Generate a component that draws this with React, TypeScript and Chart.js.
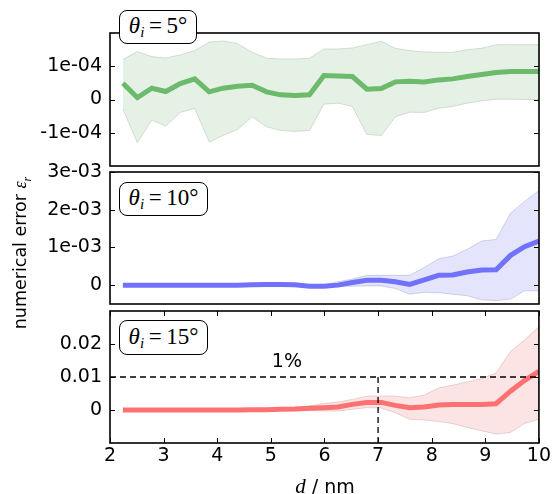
import React, { useEffect, useRef } from "react";
import { Chart, registerables } from "chart.js";

Chart.register(...registerables);

// ---------- data ----------
const dValues = [
  2.24, 2.51, 2.78, 3.04, 3.31, 3.58, 3.85, 4.11, 4.38, 4.65,
  4.92, 5.18, 5.45, 5.72, 5.99, 6.25, 6.52, 6.79, 7.06, 7.32,
  7.59, 7.86, 8.13, 8.39, 8.66, 8.93, 9.2, 9.47, 9.73, 10.0,
];

const mean5 = [
  0.49e-4, 0.06e-4, 0.34e-4, 0.24e-4, 0.48e-4, 0.62e-4, 0.23e-4, 0.34e-4, 0.4e-4, 0.43e-4,
  0.23e-4, 0.14e-4, 0.12e-4, 0.14e-4, 0.72e-4, 0.71e-4, 0.69e-4, 0.31e-4, 0.33e-4, 0.53e-4,
  0.55e-4, 0.53e-4, 0.59e-4, 0.62e-4, 0.69e-4, 0.75e-4, 0.81e-4, 0.84e-4, 0.84e-4, 0.84e-4,
];
const upper5 = [
  1.2e-4, 1.44e-4, 1.29e-4, 1.25e-4, 1.34e-4, 1.47e-4, 1.73e-4, 1.76e-4, 1.68e-4, 1.42e-4,
  1.24e-4, 1.22e-4, 1.22e-4, 1.24e-4, 1.52e-4, 1.52e-4, 1.55e-4, 1.65e-4, 1.75e-4, 1.54e-4,
  1.47e-4, 1.43e-4, 1.42e-4, 1.42e-4, 1.5e-4, 1.54e-4, 1.65e-4, 1.65e-4, 1.65e-4, 1.65e-4,
];
const lower5 = [
  -0.29e-4, -1.3e-4, -0.62e-4, -0.8e-4, -0.39e-4, -0.27e-4, -1.28e-4, -1.08e-4, -0.9e-4, -0.52e-4,
  -0.82e-4, -0.93e-4, -0.96e-4, -0.93e-4, -0.14e-4, -0.11e-4, -0.21e-4, -1.05e-4, -1.08e-4, -0.52e-4,
  -0.38e-4, -0.39e-4, -0.26e-4, -0.21e-4, -0.11e-4, -0.04e-4, 0.01e-4, 0.01e-4, 0.0, 0.0,
];

const mean10 = [
  0, 0, 0, 0, 0, 0, 0, 0, 0, 0.01e-3,
  0.02e-3, 0.02e-3, 0.01e-3, -0.03e-3, -0.03e-3, 0.0, 0.07e-3, 0.13e-3, 0.13e-3, 0.09e-3,
  0.02e-3, 0.14e-3, 0.26e-3, 0.27e-3, 0.35e-3, 0.4e-3, 0.41e-3, 0.79e-3, 1.02e-3, 1.17e-3,
];
const upper10 = [
  0.005e-3, 0.005e-3, 0.005e-3, 0.005e-3, 0.005e-3, 0.005e-3, 0.005e-3, 0.01e-3, 0.01e-3, 0.02e-3,
  0.03e-3, 0.04e-3, 0.03e-3, 0.01e-3, 0.01e-3, 0.09e-3, 0.16e-3, 0.26e-3, 0.26e-3, 0.26e-3,
  0.26e-3, 0.47e-3, 0.7e-3, 0.77e-3, 0.95e-3, 1.17e-3, 1.21e-3, 1.91e-3, 2.22e-3, 2.51e-3,
];
const lower10 = [
  -0.005e-3, -0.005e-3, -0.005e-3, -0.005e-3, -0.005e-3, -0.005e-3, -0.005e-3, -0.01e-3, -0.01e-3, -0.01e-3,
  -0.02e-3, -0.03e-3, -0.04e-3, -0.06e-3, -0.06e-3, -0.03e-3, -0.03e-3, -0.02e-3, -0.02e-3, -0.09e-3,
  -0.24e-3, -0.19e-3, -0.2e-3, -0.24e-3, -0.28e-3, -0.39e-3, -0.41e-3, -0.37e-3, -0.15e-3, -0.15e-3,
];

const mean15 = [
  0, 0, 0, 0, 0, 0, 0, 0, 0, 0.0001,
  0.0001, 0.0002, 0.0003, 0.0005, 0.0007, 0.0009, 0.0017, 0.0023, 0.0023, 0.0014,
  0.0007, 0.0009, 0.0015, 0.0017, 0.0017, 0.0017, 0.0019, 0.0057, 0.0089, 0.0117,
];
const upper15 = [
  0.00005, 0.00005, 0.00005, 0.00005, 0.00005, 0.00005, 0.00005, 0.0001, 0.0002, 0.0003,
  0.0004, 0.0006, 0.0008, 0.0012, 0.002, 0.0024, 0.0032, 0.0042, 0.0042, 0.0042,
  0.0037, 0.0045, 0.0067, 0.0075, 0.0085, 0.0095, 0.0112, 0.0177, 0.0212, 0.0252,
];
const lower15 = [
  -0.00005, -0.00005, -0.00005, -0.00005, -0.00005, -0.00005, -0.00005, -0.0001, -0.0001, -0.0001,
  -0.0002, -0.0002, -0.0002, -0.0002, -0.0003, -0.0003, 0.0002, 0.0007, 0.0006, -0.0008,
  -0.0028, -0.003, -0.0035, -0.0041, -0.0053, -0.0063, -0.0073, -0.0068, -0.0041, -0.0028,
];

const xRange = [2, 10];
const xTickValues = [2, 3, 4, 5, 6, 7, 8, 9, 10];
const xTickLabels = ["2", "3", "4", "5", "6", "7", "8", "9", "10"];

const yRange5 = [-2e-4, 2e-4];
const yTicks5 = [-1e-4, 0, 1e-4];
const yTickLabels5 = ["-1e-04", "0", "1e-04"];

const yRange10 = [-0.0005, 0.003];
const yTicks10 = [0, 1e-3, 2e-3, 3e-3];
const yTickLabels10 = ["0", "1e-03", "2e-03", "3e-03"];

const yRange15 = [-0.01, 0.03];
const yTicks15 = [0, 0.01, 0.02];
const yTickLabels15 = ["0", "0.01", "0.02"];

const thresholdValue = 0.01;
const thresholdD = 7;
const thresholdLabel = "1%";
const thresholdLabelPos = [5.3, 0.0115];

const panelAngles = ["5°", "10°", "15°"];

// ---------- layout ----------
const W = 553;
const H = 494;
const LEFT = 110;
const RIGHT = 539;
const FONT = "'DejaVu Sans', sans-serif";
const TICK_SIZE = 19;

const framePlugin = {
  id: "frame",
  afterDatasetsDraw(chart: any, _args: any, opts: any) {
    const { ctx, chartArea: a } = chart;
    ctx.save();
    ctx.strokeStyle = "#000";
    ctx.lineWidth = 1;
    const ys = chart.scales.y;
    ys.ticks.forEach((t: any) => {
      const p = Math.round(ys.getPixelForValue(t.value)) + 0.5;
      ctx.beginPath();
      ctx.moveTo(a.left, p);
      ctx.lineTo(a.left + 5, p);
      ctx.moveTo(a.right, p);
      ctx.lineTo(a.right - 5, p);
      ctx.stroke();
    });
    if (opts && opts.xTicks) {
      const xs = chart.scales.x;
      xs.ticks.forEach((t: any) => {
        const p = Math.round(xs.getPixelForValue(t.value)) + 0.5;
        ctx.beginPath();
        ctx.moveTo(p, a.top);
        ctx.lineTo(p, a.top + 5);
        ctx.moveTo(p, a.bottom);
        ctx.lineTo(p, a.bottom - 5);
        ctx.stroke();
      });
    }
    if (opts && opts.label) {
      const xs = chart.scales.x;
      ctx.fillStyle = "#000";
      ctx.font = `${TICK_SIZE}px ${FONT}`;
      ctx.textAlign = "center";
      ctx.textBaseline = "bottom";
      ctx.fillText(
        opts.label.text,
        xs.getPixelForValue(opts.label.x),
        ys.getPixelForValue(opts.label.y)
      );
    }
    ctx.lineWidth = 1.6;
    ctx.strokeRect(a.left, a.top, a.right - a.left, a.bottom - a.top);
    ctx.restore();
  },
};

type PanelSpec = {
  mean: number[];
  upper: number[];
  lower: number[];
  line: string;
  band: string;
  edge: string;
  yRange: number[];
  yTicks: number[];
  yLabels: string[];
  top: number;
  bottom: number;
  showX: boolean;
  threshold: boolean;
};

function pts(ys: number[]) {
  return dValues.map((x, i) => ({ x, y: ys[i] }));
}

function makeConfig(p: PanelSpec): any {
  const datasets: any[] = [];
  if (p.threshold) {
    datasets.push({
      data: [
        { x: xRange[0], y: thresholdValue },
        { x: xRange[1], y: thresholdValue },
      ],
      borderColor: "#000",
      borderWidth: 1.3,
      borderDash: [6, 4],
      pointRadius: 0,
      fill: false,
    });
    datasets.push({
      data: [
        { x: thresholdD, y: p.yRange[0] },
        { x: thresholdD, y: thresholdValue },
      ],
      borderColor: "#000",
      borderWidth: 1.3,
      borderDash: [6, 4],
      pointRadius: 0,
      fill: false,
    });
  }
  const lineIdx = datasets.length;
  datasets.push({
    data: pts(p.mean),
    borderColor: p.line,
    borderWidth: 5,
    pointRadius: 0,
    tension: 0,
    fill: false,
    borderJoinStyle: "miter",
  });
  const upperIdx = lineIdx + 1;
  datasets.push({
    data: pts(p.upper),
    borderColor: p.edge,
    borderWidth: 1,
    pointRadius: 0,
    tension: 0,
    fill: false,
  });
  datasets.push({
    data: pts(p.lower),
    borderColor: p.edge,
    borderWidth: 1,
    pointRadius: 0,
    tension: 0,
    fill: { target: upperIdx },
    backgroundColor: p.band,
  });

  const frameOpts: any = { xTicks: p.showX };
  if (p.threshold) {
    frameOpts.label = {
      text: thresholdLabel,
      x: thresholdLabelPos[0],
      y: thresholdLabelPos[1],
    };
  }

  return {
    type: "line",
    data: { datasets },
    plugins: [framePlugin],
    options: {
      animation: false,
      responsive: false,
      maintainAspectRatio: false,
      events: [],
      layout: {
        padding: {
          left: 0,
          right: W - RIGHT,
          top: p.top,
          bottom: p.showX ? 0 : H - p.bottom,
        },
      },
      plugins: {
        legend: { display: false },
        tooltip: { enabled: false },
        title: { display: false },
        frame: frameOpts,
      },
      scales: {
        x: {
          type: "linear",
          min: xRange[0],
          max: xRange[1],
          display: p.showX,
          grid: { display: false, drawTicks: false },
          border: { display: false },
          afterBuildTicks: (s: any) => {
            s.ticks = xTickValues.map((v) => ({ value: v }));
          },
          afterFit: (s: any) => {
            if (p.showX) s.height = H - p.bottom;
          },
          ticks: {
            color: "#000",
            font: { family: FONT, size: TICK_SIZE },
            padding: 2,
            maxRotation: 0,
            autoSkip: false,
            callback: (v: any) => {
              const i = xTickValues.indexOf(v);
              return i >= 0 ? xTickLabels[i] : "";
            },
          },
        },
        y: {
          type: "linear",
          min: p.yRange[0],
          max: p.yRange[1],
          grid: { display: false, drawTicks: false },
          border: { display: false },
          afterBuildTicks: (s: any) => {
            s.ticks = p.yTicks.map((v) => ({ value: v }));
          },
          afterFit: (s: any) => {
            s.width = LEFT;
          },
          ticks: {
            color: "#000",
            font: { family: FONT, size: TICK_SIZE },
            padding: 8,
            autoSkip: false,
            callback: (v: any) => {
              const i = p.yTicks.indexOf(v);
              return i >= 0 ? p.yLabels[i] : "";
            },
          },
        },
      },
    },
  };
}

const panels: PanelSpec[] = [
  {
    mean: mean5, upper: upper5, lower: lower5,
    line: "#6cba6c", band: "rgba(110,180,110,0.18)", edge: "rgba(150,170,150,0.35)",
    yRange: yRange5, yTicks: yTicks5, yLabels: yTickLabels5,
    top: 33, bottom: 166, showX: false, threshold: false,
  },
  {
    mean: mean10, upper: upper10, lower: lower10,
    line: "#7171fa", band: "rgba(120,120,240,0.2)", edge: "rgba(140,140,190,0.35)",
    yRange: yRange10, yTicks: yTicks10, yLabels: yTickLabels10,
    top: 172, bottom: 304, showX: false, threshold: false,
  },
  {
    mean: mean15, upper: upper15, lower: lower15,
    line: "#fc7272", band: "rgba(245,120,120,0.2)", edge: "rgba(190,140,140,0.35)",
    yRange: yRange15, yTicks: yTicks15, yLabels: yTickLabels15,
    top: 311, bottom: 443, showX: true, threshold: true,
  },
];

const boxes = [
  { left: 119, top: 10, width: 79, height: 35 },
  { left: 119, top: 182, width: 90, height: 35 },
  { left: 119, top: 320, width: 90, height: 36 },
];

function Panel({ spec }: { spec: PanelSpec }) {
  const ref = useRef<HTMLCanvasElement | null>(null);
  useEffect(() => {
    if (!ref.current) return;
    const chart = new Chart(ref.current, makeConfig(spec));
    return () => chart.destroy();
  }, [spec]);
  return (
    <canvas
      ref={ref}
      width={W}
      height={H}
      style={{ position: "absolute", left: 0, top: 0, width: W, height: H }}
    />
  );
}

export default function App() {
  return (
    <div
      style={{
        position: "absolute",
        left: 0,
        top: 0,
        width: W,
        height: H,
        background: "#fff",
        overflow: "hidden",
      }}
    >
      {panels.map((p, i) => (
        <Panel key={i} spec={p} />
      ))}
      {boxes.map((b, i) => (
        <div
          key={"b" + i}
          style={{
            position: "absolute",
            left: b.left,
            top: b.top,
            width: b.width - 3,
            height: b.height - 3,
            border: "1.5px solid #000",
            borderRadius: 8,
            background: "#fff",
            display: "flex",
            alignItems: "center",
            justifyContent: "center",
            fontFamily: "'Liberation Serif', 'DejaVu Serif', serif",
            fontSize: 23,
            color: "#000",
            whiteSpace: "nowrap",
          }}
        >
          <span>
            <i>θ</i>
            <sub style={{ fontSize: 15, fontStyle: "italic", verticalAlign: -4 }}>i</sub>
            <span>&thinsp;=&thinsp;{panelAngles[i]}</span>
          </span>
        </div>
      ))}
      <div
        style={{
          position: "absolute",
          left: 20 - 100,
          top: 253 - 12,
          width: 200,
          height: 24,
          lineHeight: "24px",
          textAlign: "center",
          transform: "rotate(-90deg)",
          fontFamily: FONT,
          fontSize: 17.5,
          color: "#000",
          whiteSpace: "nowrap",
        }}
      >
        numerical error{" "}
        <span style={{ fontFamily: "'Liberation Serif', serif", fontStyle: "italic", fontSize: 18 }}>ε</span>
        <sub style={{ fontFamily: "'Liberation Serif', serif", fontStyle: "italic", fontSize: 12 }}>r</sub>
      </div>
      <div
        style={{
          position: "absolute",
          left: 225,
          top: 475,
          width: 200,
          height: 22,
          lineHeight: "22px",
          textAlign: "center",
          fontFamily: FONT,
          fontSize: TICK_SIZE,
          color: "#000",
          whiteSpace: "nowrap",
        }}
      >
        <span style={{ fontFamily: "'Liberation Serif', serif", fontStyle: "italic", fontSize: 21 }}>d</span>
        {" / nm"}
      </div>
    </div>
  );
}
